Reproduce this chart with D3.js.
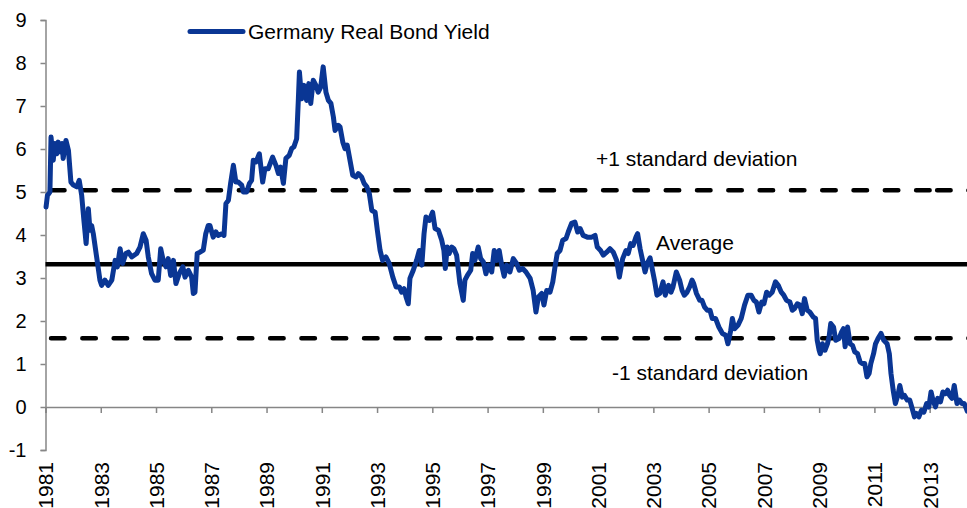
<!DOCTYPE html>
<html>
<head>
<meta charset="utf-8">
<script src="https://cdn.jsdelivr.net/npm/d3@7"></script>
<style>
  html, body { margin: 0; padding: 0; background: #fff; overflow: hidden; }
  svg text { font-family: "Liberation Sans", Arial, sans-serif; fill: #000; }
</style>
</head>
<body>
<svg id="chart"></svg>
<script>
// data (decimal year, yield in %)
const years = [
  1981.02,1981.07,1981.16,1981.20,1981.28,1981.34,1981.41,1981.46,1981.55,1981.60,1981.64,1981.74,1981.83,1981.92,
  1982.01,1982.13,1982.22,1982.31,1982.39,1982.47,1982.55,1982.61,1982.67,1982.73,1982.85,1982.97,
  1983.03,1983.15,1983.27,1983.40,1983.52,1983.60,1983.70,1983.79,1983.91,
  1984.00,1984.12,1984.30,1984.42,1984.54,1984.64,1984.72,1984.84,1984.96,
  1985.08,1985.17,1985.26,1985.36,1985.44,1985.53,1985.63,1985.72,1985.84,1985.97,
  1986.05,1986.17,1986.29,1986.35,1986.41,1986.49,1986.59,1986.71,1986.80,1986.89,1986.95,
  1987.07,1987.17,1987.25,1987.38,1987.46,1987.53,1987.62,1987.70,1987.80,1987.89,1987.98,
  1988.10,1988.16,1988.28,1988.38,1988.46,1988.52,1988.62,1988.74,1988.86,1988.94,
  1989.06,1989.22,1989.34,1989.43,1989.51,1989.61,1989.70,1989.82,1989.91,1989.99,
  1990.09,1990.15,1990.19,1990.27,1990.36,1990.45,1990.53,1990.60,1990.69,1990.79,1990.87,1990.96,
  1991.05,1991.15,1991.24,1991.33,1991.42,1991.48,1991.60,1991.66,1991.76,1991.84,1991.92,
  1992.02,1992.12,1992.24,1992.32,1992.44,1992.53,1992.63,1992.72,1992.81,1992.93,
  1993.01,1993.11,1993.20,1993.32,1993.44,1993.57,1993.69,1993.81,1993.89,1993.98,
  1994.05,1994.13,1994.19,1994.31,1994.43,1994.53,1994.62,1994.70,1994.77,1994.89,
  1995.01,1995.10,1995.22,1995.34,1995.42,1995.47,1995.54,1995.61,1995.70,1995.78,1995.88,
  1996.00,1996.12,1996.18,1996.27,1996.39,1996.46,1996.54,1996.66,1996.75,1996.85,1996.94,
  1997.03,1997.15,1997.24,1997.33,1997.42,1997.51,1997.60,1997.69,1997.81,1997.93,
  1998.05,1998.15,1998.27,1998.39,1998.54,1998.65,1998.75,1998.84,1998.96,
  1999.04,1999.14,1999.26,1999.36,1999.44,1999.52,1999.62,1999.72,1999.84,1999.92,
  2000.04,2000.16,2000.26,2000.35,2000.46,2000.61,2000.77,2000.89,2000.97,
  2001.09,2001.19,2001.31,2001.43,2001.55,2001.67,2001.77,2001.89,
  2002.01,2002.09,2002.18,2002.27,2002.37,2002.43,2002.52,2002.61,2002.70,2002.78,2002.88,
  2003.04,2003.13,2003.23,2003.35,2003.43,2003.55,2003.64,2003.71,2003.83,2003.95,
  2004.04,2004.12,2004.22,2004.31,2004.40,2004.46,2004.56,2004.68,2004.76,2004.85,2004.95,
  2005.05,2005.13,2005.25,2005.37,2005.50,2005.62,2005.70,2005.80,2005.86,2005.94,
  2006.06,2006.18,2006.30,2006.42,2006.54,2006.64,2006.73,2006.82,2006.92,
  2007.00,2007.10,2007.19,2007.30,2007.42,2007.52,2007.63,2007.72,2007.82,2007.94,
  2008.03,2008.11,2008.21,2008.30,2008.39,2008.47,2008.57,2008.66,2008.79,2008.87,2008.93,
  2009.00,2009.04,2009.12,2009.21,2009.30,2009.36,2009.42,2009.52,2009.60,2009.72,2009.81,2009.88,2009.94,
  2010.03,2010.12,2010.21,2010.29,2010.39,2010.48,2010.57,2010.65,2010.73,2010.81,2010.87,2010.97,
  2011.04,2011.13,2011.24,2011.34,2011.46,2011.54,2011.60,2011.68,2011.76,2011.85,2011.92,
  2012.01,2012.09,2012.19,2012.28,2012.37,2012.45,2012.52,2012.61,2012.70,2012.79,2012.89,2012.97,
  2013.05,2013.12,2013.21,2013.29,2013.39,2013.48,2013.57,2013.65,2013.72,2013.81,2013.89,2013.99,
  2014.08,2014.17,2014.25,2014.33,2014.36
];
const yields = [
  4.65,4.92,5.00,6.28,5.74,6.13,5.89,6.16,5.93,6.13,5.78,6.20,5.97,5.23,
  5.16,5.12,5.27,4.92,4.34,3.80,4.61,4.11,4.22,4.03,3.49,2.95,
  2.83,2.95,2.83,2.95,3.41,3.26,3.68,3.34,3.57,
  3.60,3.49,3.57,3.72,4.03,3.88,3.49,3.10,2.95,
  2.95,3.68,3.41,3.26,3.45,3.06,3.41,2.87,3.10,3.26,
  3.02,3.18,3.02,2.64,2.67,3.57,3.60,3.65,4.03,4.22,4.22,
  3.95,4.07,3.99,4.03,3.99,4.73,4.81,5.20,5.62,5.23,5.23,
  5.16,5.00,5.00,5.20,5.27,5.74,5.70,5.89,5.23,5.54,
  5.54,5.81,5.62,5.43,5.58,5.20,5.78,5.85,6.01,6.05,
  6.24,7.13,7.79,7.17,7.48,7.13,7.52,7.06,7.60,7.48,7.32,7.44,
  7.91,7.32,7.13,7.06,6.74,6.43,6.55,6.51,6.16,6.01,6.09,
  5.74,5.39,5.35,5.43,5.35,5.20,5.12,4.96,4.57,4.53,
  4.11,3.64,3.41,3.49,3.34,3.02,2.79,2.79,2.67,2.75,
  2.56,2.40,2.99,3.18,3.41,3.64,3.30,4.03,4.42,4.34,
  4.53,4.15,4.11,3.88,3.64,3.22,3.72,3.57,3.72,3.68,3.53,
  2.87,2.48,2.95,3.06,3.18,3.57,3.41,3.72,3.45,3.37,3.10,
  3.30,3.14,3.64,3.41,3.64,3.30,3.04,3.30,3.14,3.45,
  3.34,3.18,3.22,3.14,2.99,2.71,2.21,2.56,2.64,
  2.37,2.71,2.67,2.91,3.26,3.57,3.64,3.88,3.92,4.07,
  4.27,4.30,4.07,4.15,3.99,3.95,3.95,3.99,3.72,
  3.64,3.53,3.60,3.68,3.60,3.41,3.02,3.45,
  3.64,3.57,3.80,3.76,3.95,4.03,3.68,3.41,3.14,3.34,3.47,
  2.95,2.60,2.64,2.91,2.60,2.83,2.67,2.79,3.14,2.95,
  2.71,2.60,2.67,2.79,2.95,2.87,2.64,2.48,2.48,2.33,2.25,
  2.25,2.06,2.06,1.86,1.71,1.67,1.47,1.78,2.06,1.82,
  1.90,2.06,2.37,2.60,2.60,2.48,2.44,2.21,2.44,
  2.40,2.67,2.60,2.67,2.91,2.83,2.67,2.60,2.48,2.44,
  2.25,2.29,2.40,2.37,2.17,2.52,2.25,2.21,2.09,2.06,1.55,
  1.32,1.24,1.47,1.32,1.47,1.63,1.94,1.86,1.55,1.59,1.74,1.82,1.40,
  1.86,1.47,1.43,1.28,1.24,1.05,1.01,1.01,0.70,0.78,1.01,1.24,
  1.47,1.59,1.71,1.55,1.47,1.24,0.78,0.39,0.08,0.27,0.50,
  0.23,0.27,0.16,0.16,-0.04,-0.23,-0.15,-0.23,-0.08,-0.12,0.08,0.00,
  0.35,0.16,0.00,0.20,0.12,0.35,0.31,0.39,0.27,0.20,0.50,0.08,
  0.16,0.08,0.08,-0.04,-0.10
];
const averageYield = 3.32;
const stdDevYield = 1.72;
const yTicks = [-1, 0, 1, 2, 3, 4, 5, 6, 7, 8, 9];
const xTickYears = [1981,1983,1985,1987,1989,1991,1993,1995,1997,1999,2001,2003,2005,2007,2009,2011,2013];
const seriesName = "Germany Real Bond Yield";
const notes = ["+1 standard deviation", "Average", "-1 standard deviation"];

// layout
const width = 967;
const height = 508;
const plot = { left: 45.5, top: 20, bottom: 450 };
const pxPerYear = 27.63;
const blue = "#0a3694";
const axisGrey = "#868686";
// Excel restarted the dash pattern at these points
const dashBreaks = [1981.2, 1996.65, 2013.27, 2015];

const svg = d3.select("#chart").attr("width", width).attr("height", height);

const x = d3.scaleLinear().domain([1981, 2015]).range([plot.left, plot.left + 34 * pxPerYear]);
const y = d3.scaleLinear().domain([-1, 9]).range([plot.bottom, plot.top]);

// y axis (plain hyphen for negatives, like Excel)
const yAxis = svg.append("g")
  .attr("transform", "translate(" + plot.left + ",0)")
  .call(d3.axisLeft(y).tickValues(yTicks).tickSize(5).tickPadding(14).tickFormat(d => String(d)));
yAxis.select(".domain").attr("stroke", axisGrey).attr("stroke-width", 1.5);
yAxis.selectAll(".tick line").attr("stroke", axisGrey).attr("stroke-width", 1.5);
yAxis.selectAll(".tick text").style("font-size", "20px").attr("fill", "#000");

// x axis at zero
const xAxis = svg.append("g")
  .attr("transform", "translate(0," + y(0) + ")")
  .call(d3.axisBottom(x).tickValues(xTickYears).tickSize(6).tickFormat(d => String(d)));
xAxis.select(".domain").attr("stroke", axisGrey).attr("stroke-width", 1.5);
xAxis.selectAll(".tick line").attr("stroke", axisGrey).attr("stroke-width", 1.5);
xAxis.selectAll(".tick text")
  .style("font-size", "21px")
  .attr("fill", "#000")
  .style("text-anchor", "end")
  .attr("transform", "rotate(-90)")
  .attr("x", -(462 - y(0)))
  .attr("y", 0)
  .attr("dy", "0.35em");

// average line
svg.append("line")
  .attr("x1", x(1981)).attr("x2", x(2015))
  .attr("y1", y(averageYield)).attr("y2", y(averageYield))
  .attr("stroke", "#000").attr("stroke-width", 4.5);

// +/- 1 sd dashed lines, drawn in pieces like the original
[averageYield + stdDevYield, averageYield - stdDevYield].forEach(v => {
  for (let i = 0; i < dashBreaks.length - 1; i++) {
    svg.append("line")
      .attr("x1", x(dashBreaks[i])).attr("x2", x(dashBreaks[i + 1]))
      .attr("y1", y(v)).attr("y2", y(v))
      .attr("stroke", "#000").attr("stroke-width", 4.5)
      .attr("stroke-linecap", "round")
      .attr("stroke-dasharray", "13.5,17.8");
  }
});

// the series
const data = years.map((t, i) => ({ t: t, v: yields[i] }));
const line = d3.line().x(d => x(d.t)).y(d => y(d.v));
svg.append("path")
  .datum(data)
  .attr("d", line)
  .attr("fill", "none")
  .attr("stroke", blue)
  .attr("stroke-width", 5)
  .attr("stroke-linejoin", "round")
  .attr("stroke-linecap", "round");

// legend
svg.append("line")
  .attr("x1", 190).attr("x2", 243).attr("y1", 31.5).attr("y2", 31.5)
  .attr("stroke", blue).attr("stroke-width", 5).attr("stroke-linecap", "round");
svg.append("text").attr("x", 248).attr("y", 38.5).style("font-size", "21px").text(seriesName);

// annotations
svg.append("text").attr("x", 596).attr("y", 166).style("font-size", "21px").text(notes[0]);
svg.append("text").attr("x", 656).attr("y", 250).style("font-size", "21px").text(notes[1]);
svg.append("text").attr("x", 612).attr("y", 379.5).style("font-size", "21px").text(notes[2]);
</script>
</body>
</html>
